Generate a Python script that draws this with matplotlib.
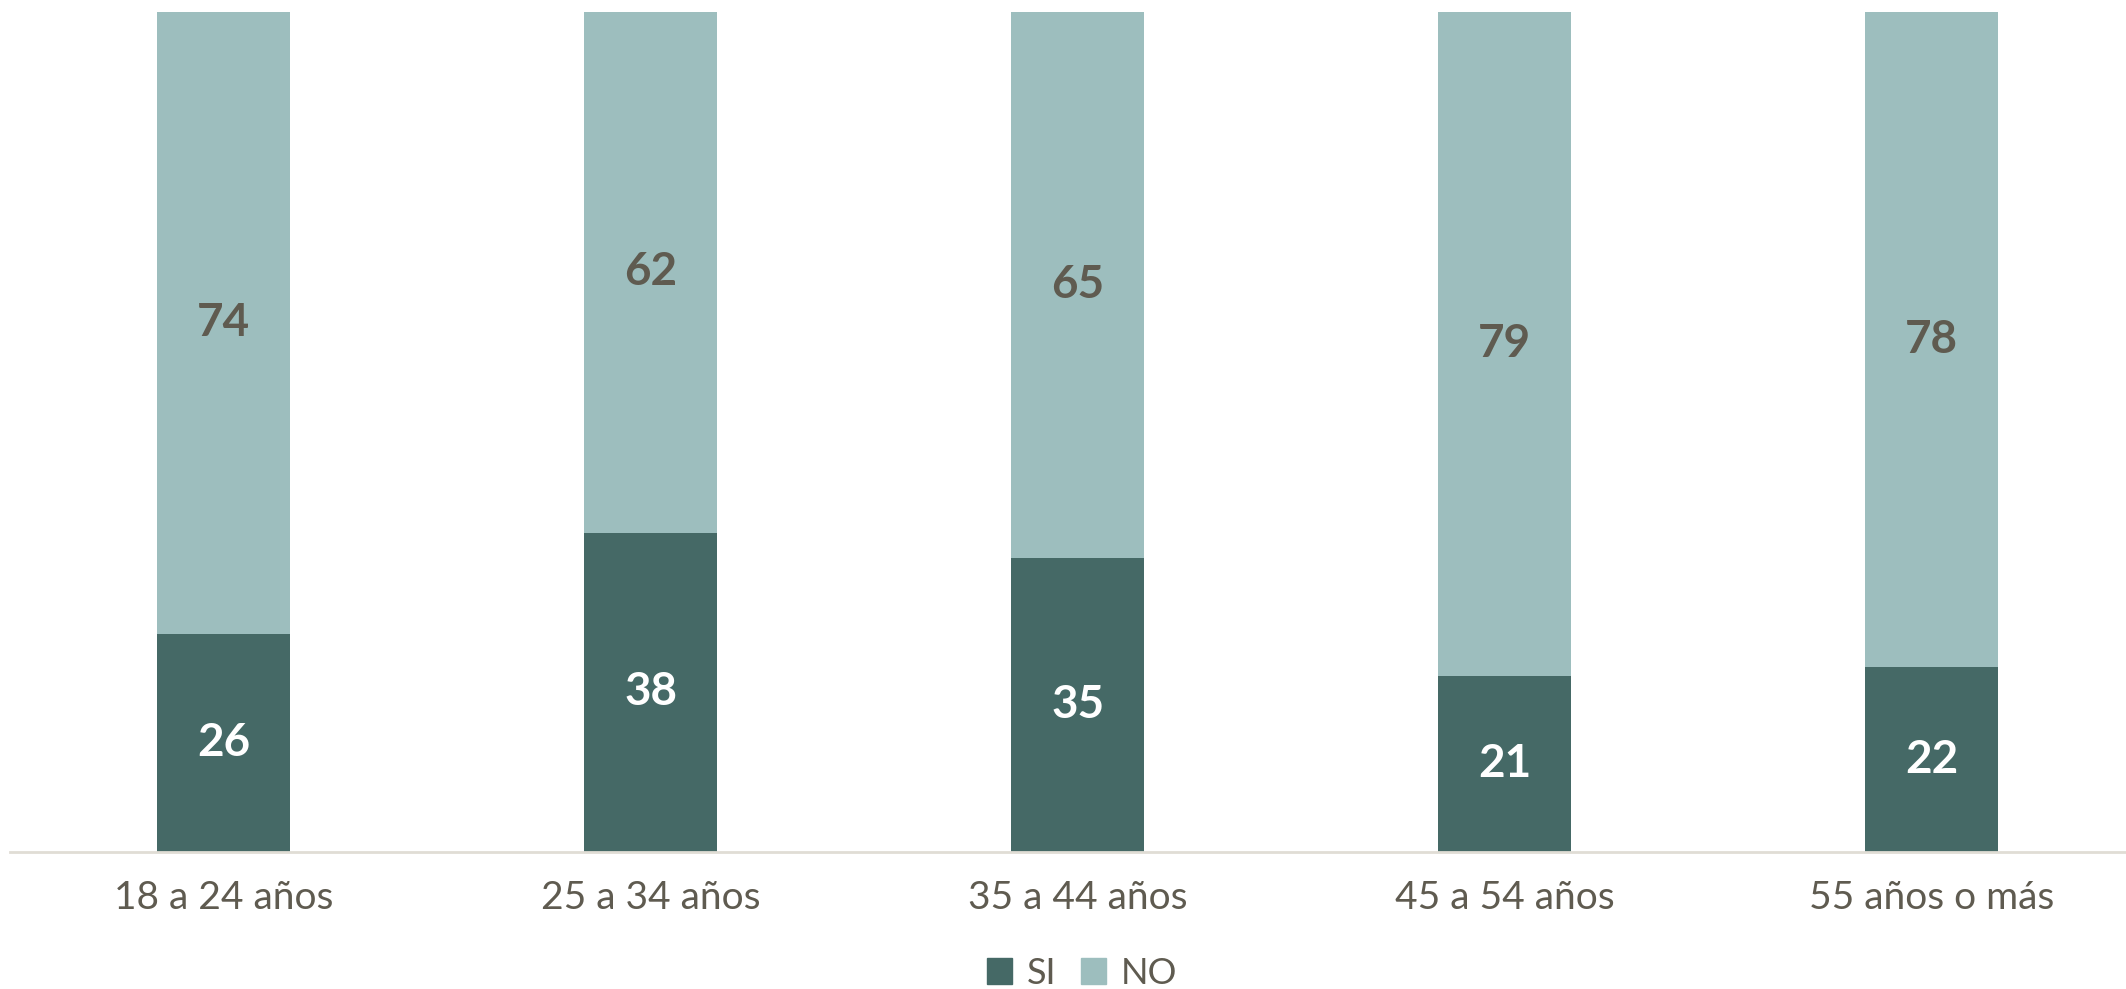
import numpy as np
import matplotlib.pyplot as plt
from matplotlib.patches import Patch

categories = ["18 a 24 años", "25 a 34 años", "35 a 44 años", "45 a 54 años", "55 años o más"]
si = [26, 38, 35, 21, 22]
no = [74, 62, 65, 79, 78]

dark = "#456966"
light = "#9DBEBE"
text_col = "#5F5B50"

plt.rcParams['font.family'] = ['Lato', 'DejaVu Sans']

fig = plt.figure(figsize=(21.26, 9.89), dpi=100)
ax = fig.add_axes([10/2126, (989-852)/989, 2116/2126, 840/989])

x = np.arange(len(categories))
w = 0.311
ax.bar(x, si, w, color=dark)
ax.bar(x, no, w, bottom=si, color=light)

for i in range(len(x)):
    ax.text(x[i], si[i]/2, str(si[i]), ha='center', va='center',
            color='white', fontsize=33, fontweight='bold')
    ax.text(x[i], si[i] + no[i]/2, str(no[i]), ha='center', va='center',
            color=text_col, fontsize=33, fontweight='bold')

ax.set_xlim(-0.5, 4.455)
ax.set_ylim(0, 100)
ax.set_yticks([])
ax.set_xticks(x)
ax.set_xticklabels(categories, fontsize=28, color=text_col)
ax.tick_params(axis='x', length=0, pad=20)
for s in ['top', 'right', 'left']:
    ax.spines[s].set_visible(False)
ax.spines['bottom'].set_color('#E0DDD5')
ax.spines['bottom'].set_linewidth(2)

handles = [Patch(color=dark, label='SI'), Patch(color=light, label='NO')]
leg = fig.legend(handles=handles, loc='center', bbox_to_anchor=(1082/2126, 1-973/989),
                 ncol=2, frameon=False, fontsize=26, handlelength=0.7, handleheight=0.7,
                 handletextpad=0.4, columnspacing=0.7)
for t in leg.get_texts():
    t.set_color(text_col)

fig.savefig("out.png", dpi=100)
